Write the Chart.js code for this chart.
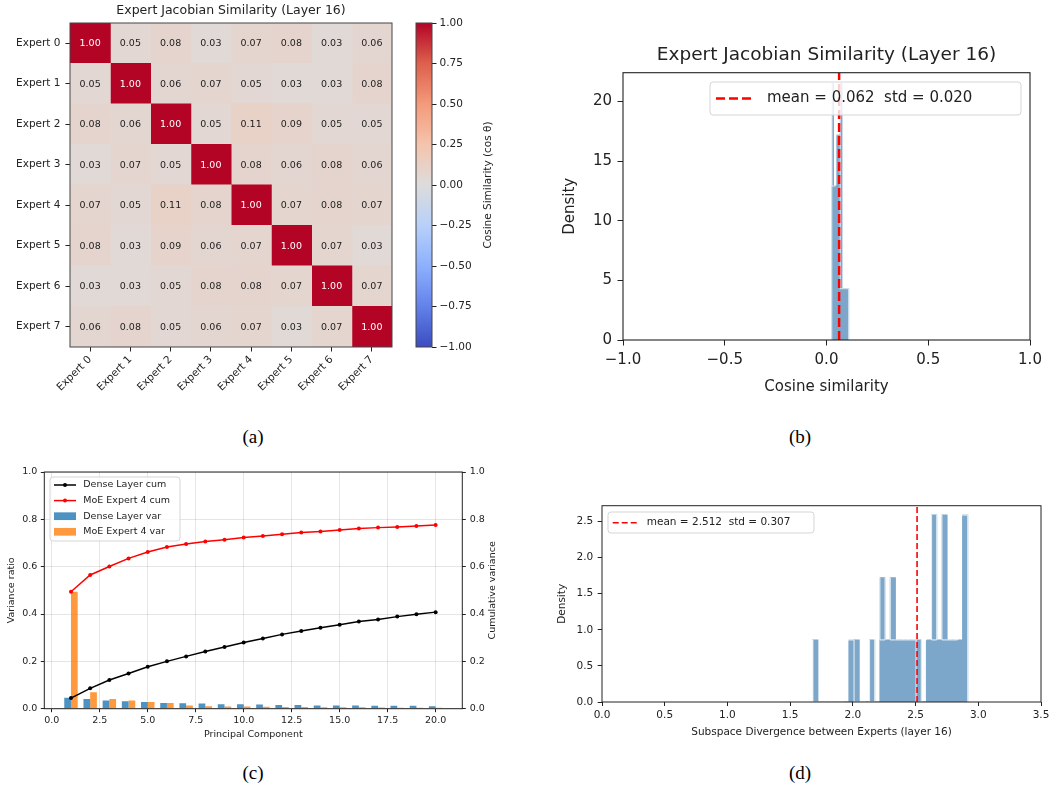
<!DOCTYPE html>
<html>
<head>
<meta charset="utf-8">
<script src="https://cdn.jsdelivr.net/npm/chart.js@4.4.0/dist/chart.umd.min.js"></script>
<style>
  body { margin: 0; background: #fff; width: 1049px; height: 790px; position: relative; overflow: hidden; }
  canvas { position: absolute; }
  .cap { position: absolute; width: 60px; text-align: center; font-family: "Liberation Serif"; font-size: 19px; line-height: 20px; color: #000; }
</style>
</head>
<body>
<canvas id="heat" width="400" height="420" style="left:0;top:0"></canvas>
<canvas id="cbar" width="120" height="420" style="left:400px;top:0"></canvas>
<canvas id="histCos" width="509" height="380" style="left:540px;top:30px"></canvas>
<canvas id="pca" width="520" height="300" style="left:0;top:460px"></canvas>
<canvas id="histDiv" width="509" height="260" style="left:540px;top:500px"></canvas>
<div class="cap" style="left:223px;top:427px">(a)</div>
<div class="cap" style="left:770px;top:427px">(b)</div>
<div class="cap" style="left:223px;top:763px">(c)</div>
<div class="cap" style="left:770px;top:763px">(d)</div>
<script>
// ---- data ----
const experts = ['Expert 0', 'Expert 1', 'Expert 2', 'Expert 3', 'Expert 4', 'Expert 5', 'Expert 6', 'Expert 7'];
const simMatrix = [
  [1.00, 0.05, 0.08, 0.03, 0.07, 0.08, 0.03, 0.06],
  [0.05, 1.00, 0.06, 0.07, 0.05, 0.03, 0.03, 0.08],
  [0.08, 0.06, 1.00, 0.05, 0.11, 0.09, 0.05, 0.05],
  [0.03, 0.07, 0.05, 1.00, 0.08, 0.06, 0.08, 0.06],
  [0.07, 0.05, 0.11, 0.08, 1.00, 0.07, 0.08, 0.07],
  [0.08, 0.03, 0.09, 0.06, 0.07, 1.00, 0.07, 0.03],
  [0.03, 0.03, 0.05, 0.08, 0.08, 0.07, 1.00, 0.07],
  [0.06, 0.08, 0.05, 0.06, 0.07, 0.03, 0.07, 1.00]
];
const cbarTicks = [-1, -0.75, -0.5, -0.25, 0, 0.25, 0.5, 0.75, 1];

const cosBinLo = 0.026, cosBinHi = 0.109;
const cosDensity = [21.5, 12.9, 12.9, 17.2, 17.2, 21.5, 4.3, 4.3, 4.3, 4.3];
const cosMean = 0.062, cosStd = 0.020;
const cosXTicks = [-1, -0.5, 0, 0.5, 1];
const cosYTicks = [0, 5, 10, 15, 20];

const components = [1, 2, 3, 4, 5, 6, 7, 8, 9, 10, 11, 12, 13, 14, 15, 16, 17, 18, 19, 20];
const denseVar = [0.046, 0.041, 0.035, 0.031, 0.028, 0.024, 0.023, 0.022, 0.019, 0.019, 0.018, 0.016, 0.016, 0.013, 0.013, 0.013, 0.012, 0.012, 0.012, 0.010];
const moeVar = [0.494, 0.069, 0.041, 0.035, 0.028, 0.024, 0.013, 0.010, 0.009, 0.009, 0.008, 0.007, 0.007, 0.006, 0.006, 0.006, 0.005, 0.004, 0.004, 0.004];
const denseCum = [0.045, 0.086, 0.121, 0.149, 0.177, 0.200, 0.221, 0.242, 0.261, 0.280, 0.297, 0.314, 0.328, 0.342, 0.355, 0.368, 0.377, 0.389, 0.399, 0.408];
const moeCum = [0.494, 0.565, 0.601, 0.635, 0.662, 0.683, 0.696, 0.706, 0.714, 0.723, 0.730, 0.737, 0.744, 0.749, 0.755, 0.761, 0.765, 0.768, 0.772, 0.776];
const pcaXTicks = [0, 2.5, 5, 7.5, 10, 12.5, 15, 17.5, 20];
const pcaYTicks = [0, 0.2, 0.4, 0.6, 0.8, 1.0];

const divBinLo = 1.680, divBinHi = 2.916;
const divDensity = [0.86, 0, 0, 0, 0, 0, 0, 0.86, 0.86, 0, 0, 0.86, 0, 1.72, 0.86, 1.72, 0.86, 0.86, 0.86, 0.86, 0.86, 0, 0.86, 2.59, 0.86, 2.59, 0.86, 0.86, 0.86, 2.59];
const divMean = 2.512, divStd = 0.307;
const divXTicks = [0, 0.5, 1, 1.5, 2, 2.5, 3, 3.5];
const divYTicks = [0, 0.5, 1, 1.5, 2, 2.5];

// ---- helpers ----
Chart.defaults.font.family = '"DejaVu Sans"';
Chart.defaults.color = '#222';

const FONT = '"DejaVu Sans"';
const fmt = (v, d) => (v < 0 ? '\u2212' : '') + Math.abs(v).toFixed(d);
const fixW = w => s => { s.width = w; s.paddingTop = 0; s.paddingBottom = 0; };
const fixH = h => s => { s.height = h; s.paddingLeft = 0; s.paddingRight = 0; };
const setTicks = list => s => { s.ticks = list.map(v => ({ value: v })); };

const cwStops = ['#3b4cc0', '#6282ea', '#8db0fe', '#b8d0f9', '#dddcdc', '#f5c4ac', '#f49a7b', '#de604d', '#b40426'];
function hexRgb(h) {
  return [1, 3, 5].map(i => parseInt(h.slice(i, i + 2), 16));
}
function coolwarm(v) {
  const t = (v + 1) / 2 * (cwStops.length - 1);
  const i = Math.min(Math.floor(t), cwStops.length - 2);
  const f = t - i;
  const a = hexRgb(cwStops[i]), b = hexRgb(cwStops[i + 1]);
  const c = a.map((x, k) => Math.round(x + (b[k] - x) * f));
  return `rgb(${c[0]},${c[1]},${c[2]})`;
}

function makeFrame(color, lw) {
  return {
    id: 'frame',
    afterDraw(chart) {
      const { ctx, chartArea: a } = chart;
      ctx.save();
      ctx.strokeStyle = color;
      ctx.lineWidth = lw;
      ctx.strokeRect(a.left, a.top, a.right - a.left, a.bottom - a.top);
      ctx.restore();
    }
  };
}

function makeTexts(items) {
  return {
    id: 'texts',
    afterDraw(chart) {
      const { ctx, chartArea: a } = chart;
      items.forEach(it => {
        const [x, y] = it.at(a);
        ctx.save();
        ctx.translate(x, y);
        if (it.rot) ctx.rotate(it.rot);
        ctx.font = it.font;
        ctx.fillStyle = '#222';
        ctx.textAlign = 'center';
        ctx.textBaseline = 'middle';
        ctx.fillText(it.text, 0, 0);
        ctx.restore();
      });
    }
  };
}

function makeLegend(cfg) {
  return {
    id: 'legendBox',
    afterDraw(chart) {
      const ctx = chart.ctx;
      ctx.save();
      ctx.beginPath();
      ctx.roundRect(cfg.x, cfg.y, cfg.w, cfg.h, 3);
      ctx.fillStyle = 'rgba(255,255,255,0.8)';
      ctx.fill();
      ctx.strokeStyle = '#d5d5d5';
      ctx.lineWidth = 1;
      ctx.stroke();
      cfg.entries.forEach((e, k) => {
        const cy = cfg.firstY + k * (cfg.rowH || 0);
        if (e.kind === 'rect') {
          ctx.fillStyle = e.color;
          ctx.fillRect(cfg.s0, cy - cfg.rectH / 2, cfg.s1 - cfg.s0, cfg.rectH);
        } else {
          ctx.beginPath();
          ctx.strokeStyle = e.color;
          ctx.lineWidth = e.lw;
          ctx.setLineDash(e.dash || []);
          ctx.moveTo(cfg.s0, cy);
          ctx.lineTo(cfg.s1, cy);
          ctx.stroke();
          ctx.setLineDash([]);
          if (e.marker) {
            ctx.beginPath();
            ctx.fillStyle = e.color;
            ctx.arc((cfg.s0 + cfg.s1) / 2, cy, e.marker, 0, Math.PI * 2);
            ctx.fill();
          }
        }
        ctx.fillStyle = '#222';
        ctx.font = cfg.font;
        ctx.textAlign = 'left';
        ctx.textBaseline = 'middle';
        ctx.fillText(e.text, cfg.textX, cy);
      });
      ctx.restore();
    }
  };
}

// histogram helpers: bar centers and step outline from bin edges
function histBars(lo, hi, dens) {
  const w = (hi - lo) / dens.length;
  return dens.map((d, k) => ({ x: lo + (k + 0.5) * w, y: d }));
}
function histOutline(lo, hi, dens) {
  const w = (hi - lo) / dens.length;
  const pts = [{ x: lo, y: 0 }];
  dens.forEach((d, k) => pts.push({ x: lo + k * w, y: d }));
  pts.push({ x: hi, y: dens[dens.length - 1] }, { x: hi, y: 0 });
  return pts;
}

const noPlug = { legend: { display: false }, tooltip: { enabled: false } };
// steelblue at alpha 0.7 on white, kept opaque so neighbouring bins don't seam
const HIST_FILL = '#7da7ca';

// ---- (a) heatmap ----
const cellText = {
  id: 'cellText',
  afterDatasetsDraw(chart) {
    const { ctx, scales: { x, y } } = chart;
    ctx.save();
    ctx.font = '9.5px ' + FONT;
    ctx.textAlign = 'center';
    ctx.textBaseline = 'middle';
    simMatrix.forEach((row, i) => row.forEach((v, j) => {
      ctx.fillStyle = v > 0.5 ? '#fff' : '#222';
      ctx.fillText(v.toFixed(2), x.getPixelForValue(j + 0.5), y.getPixelForValue(i) + 0.5);
    }));
    ctx.restore();
  }
};

new Chart(document.getElementById('heat'), {
  type: 'bar',
  data: {
    labels: experts,
    datasets: experts.map((_, j) => ({
      data: experts.map(() => 1),
      backgroundColor: simMatrix.map(row => coolwarm(row[j])),
      borderWidth: 0,
      inflateAmount: 0.5,
      barPercentage: 1,
      categoryPercentage: 1
    }))
  },
  options: {
    indexAxis: 'y',
    responsive: false,
    animation: false,
    layout: { padding: { top: 23, right: 8, left: 0, bottom: 0 } },
    plugins: noPlug,
    scales: {
      x: {
        type: 'linear', stacked: true, min: 0, max: 8,
        afterBuildTicks: setTicks(experts.map((_, j) => j + 0.5)),
        afterFit: fixH(73),
        ticks: { callback: (v, i) => experts[i], minRotation: 45, maxRotation: 45, autoSkip: false, padding: 2, font: { size: 10.5 } },
        grid: { drawOnChartArea: false, tickLength: 4.5, tickColor: '#222' },
        border: { display: false }
      },
      y: {
        stacked: true,
        afterFit: fixW(70),
        ticks: { padding: 5, font: { size: 10.5 } },
        grid: { offset: false, drawOnChartArea: false, tickLength: 4.5, tickColor: '#222' },
        border: { display: false }
      }
    }
  },
  plugins: [cellText, makeFrame('#444', 1), makeTexts([
    { text: 'Expert Jacobian Similarity (Layer 16)', font: '12.5px ' + FONT, at: a => [(a.left + a.right) / 2, 11] }
  ])]
});

// colorbar
new Chart(document.getElementById('cbar'), {
  type: 'bar',
  data: {
    labels: [''],
    datasets: [{
      data: [[-1, 1]],
      backgroundColor: c => {
        const a = c.chart.chartArea;
        if (!a) return 'transparent';
        const g = c.chart.ctx.createLinearGradient(0, a.bottom, 0, a.top);
        cwStops.forEach((col, k) => g.addColorStop(k / (cwStops.length - 1), col));
        return g;
      },
      borderWidth: 0,
      barPercentage: 1,
      categoryPercentage: 1
    }]
  },
  options: {
    responsive: false,
    animation: false,
    layout: { padding: { left: 16, top: 23, bottom: 73, right: 0 } },
    plugins: noPlug,
    scales: {
      x: { display: false },
      y: {
        position: 'right', min: -1, max: 1,
        afterBuildTicks: setTicks(cbarTicks),
        afterFit: fixW(88),
        ticks: { callback: v => fmt(v, 2), padding: 3, font: { size: 10.5 } },
        grid: { drawOnChartArea: false, tickLength: 4.5, tickColor: '#222' },
        border: { display: false }
      }
    }
  },
  plugins: [makeFrame('#444', 1), makeTexts([
    { text: 'Cosine Similarity (cos \u03b8)', font: '10.5px ' + FONT, rot: -Math.PI / 2, at: a => [88, (a.top + a.bottom) / 2] }
  ])]
});

// ---- (b) cosine similarity histogram ----
new Chart(document.getElementById('histCos'), {
  type: 'bar',
  data: {
    datasets: [
      { type: 'line', data: [{ x: cosMean, y: 0 }, { x: cosMean, y: 22.4 }], borderColor: '#ff0000', borderWidth: 2.5, borderDash: [9, 4], pointRadius: 0, order: 0 },
      { type: 'line', data: histOutline(cosBinLo, cosBinHi, cosDensity), stepped: 'after', borderColor: 'rgba(255,255,255,0.9)', borderWidth: 0.8, pointRadius: 0, order: 1 },
      { data: histBars(cosBinLo, cosBinHi, cosDensity), backgroundColor: HIST_FILL, borderWidth: 0, inflateAmount: 0.5, barPercentage: 1, categoryPercentage: 1, order: 2 }
    ]
  },
  options: {
    responsive: false,
    animation: false,
    layout: { padding: { top: 42.7, right: 19, left: 0, bottom: 0 } },
    plugins: noPlug,
    scales: {
      x: {
        type: 'linear', min: -1, max: 1, offset: false,
        afterBuildTicks: setTicks(cosXTicks),
        afterFit: fixH(70),
        ticks: { callback: v => fmt(v, 1), padding: 6, font: { size: 15 } },
        grid: { offset: false, drawOnChartArea: false, tickLength: 5.5, tickColor: '#222' },
        border: { display: false }
      },
      y: {
        min: 0, max: 22.4,
        afterBuildTicks: setTicks(cosYTicks),
        afterFit: fixW(83),
        ticks: { padding: 5.5, font: { size: 15 } },
        grid: { drawOnChartArea: false, tickLength: 5.5, tickColor: '#222' },
        border: { display: false }
      }
    }
  },
  plugins: [makeFrame('#222', 1.1), makeTexts([
    { text: 'Expert Jacobian Similarity (Layer 16)', font: '18.5px ' + FONT, at: a => [(a.left + a.right) / 2, 25] },
    { text: 'Density', font: '15px ' + FONT, rot: -Math.PI / 2, at: a => [30, (a.top + a.bottom) / 2] },
    { text: 'Cosine similarity', font: '15px ' + FONT, at: a => [(a.left + a.right) / 2, 357] }
  ]), makeLegend({
    x: 170, y: 52, w: 311, h: 33, firstY: 68.5, s0: 176, s1: 213, textX: 227, font: '15px ' + FONT,
    entries: [{ kind: 'line', color: '#ff0000', lw: 2.5, dash: [9, 4], text: `mean = ${cosMean.toFixed(3)}  std = ${cosStd.toFixed(3)}` }]
  })]
});

// ---- (c) PCA variance ----
new Chart(document.getElementById('pca'), {
  type: 'bar',
  data: {
    datasets: [
      { type: 'line', label: 'Dense Layer cum', yAxisID: 'y2', data: components.map((c, i) => ({ x: c, y: denseCum[i] })), borderColor: '#000', backgroundColor: '#000', borderWidth: 1.5, pointRadius: 2, pointBorderWidth: 0, order: 0 },
      { type: 'line', label: 'MoE Expert 4 cum', yAxisID: 'y2', data: components.map((c, i) => ({ x: c, y: moeCum[i] })), borderColor: '#ff0000', backgroundColor: '#ff0000', borderWidth: 1.5, pointRadius: 2, pointBorderWidth: 0, order: 0 },
      { label: 'Dense Layer var', data: components.map((c, i) => ({ x: c, y: denseVar[i] })), backgroundColor: 'rgba(31,119,180,0.8)', borderWidth: 0, barPercentage: 1, categoryPercentage: 0.7, order: 1 },
      { label: 'MoE Expert 4 var', data: components.map((c, i) => ({ x: c, y: moeVar[i] })), backgroundColor: 'rgba(255,127,14,0.8)', borderWidth: 0, barPercentage: 1, categoryPercentage: 0.7, order: 1 }
    ]
  },
  options: {
    responsive: false,
    animation: false,
    layout: { padding: { top: 12, right: 0, left: 0, bottom: 0 } },
    plugins: noPlug,
    scales: {
      x: {
        type: 'linear', min: -0.39, max: 21.39, offset: false,
        afterBuildTicks: setTicks(pcaXTicks),
        afterFit: fixH(51.3),
        ticks: { callback: v => v.toFixed(1), padding: 3, font: { size: 9.5 } },
        grid: { offset: false, color: 'rgba(150,150,150,0.25)', tickLength: 3.5, tickColor: '#222' },
        border: { display: false }
      },
      y: {
        min: 0, max: 1,
        afterBuildTicks: setTicks(pcaYTicks),
        afterFit: fixW(44.3),
        ticks: { callback: v => v.toFixed(1), padding: 3.5, font: { size: 9.5 } },
        grid: { color: 'rgba(150,150,150,0.25)', tickLength: 3.5, tickColor: '#222' },
        border: { display: false }
      },
      y2: {
        position: 'right', min: 0, max: 1,
        afterBuildTicks: setTicks(pcaYTicks),
        afterFit: fixW(57.7),
        ticks: { callback: v => v.toFixed(1), padding: 4, font: { size: 9.5 } },
        grid: { drawOnChartArea: false, tickLength: 3.5, tickColor: '#222' },
        border: { display: false }
      }
    }
  },
  plugins: [makeFrame('#222', 1), makeTexts([
    { text: 'Variance ratio', font: '9.5px ' + FONT, rot: -Math.PI / 2, at: a => [11.7, (a.top + a.bottom) / 2] },
    { text: 'Cumulative variance', font: '9.5px ' + FONT, rot: -Math.PI / 2, at: a => [493, (a.top + a.bottom) / 2] },
    { text: 'Principal Component', font: '9.5px ' + FONT, at: a => [(a.left + a.right) / 2, 275] }
  ]), makeLegend({
    x: 50, y: 17, w: 130, h: 64, firstY: 25, rowH: 15.6, s0: 54, s1: 76, textX: 83.3, rectH: 7.7, font: '9.5px ' + FONT,
    entries: [
      { kind: 'line', color: '#000', lw: 1.5, marker: 2, text: 'Dense Layer cum' },
      { kind: 'line', color: '#ff0000', lw: 1.5, marker: 2, text: 'MoE Expert 4 cum' },
      { kind: 'rect', color: 'rgba(31,119,180,0.8)', text: 'Dense Layer var' },
      { kind: 'rect', color: 'rgba(255,127,14,0.8)', text: 'MoE Expert 4 var' }
    ]
  })]
});

// ---- (d) subspace divergence histogram ----
new Chart(document.getElementById('histDiv'), {
  type: 'bar',
  data: {
    datasets: [
      { type: 'line', data: [{ x: divMean, y: 0 }, { x: divMean, y: 2.72 }], borderColor: '#ff0000', borderWidth: 1.6, borderDash: [6, 3], pointRadius: 0, order: 0 },
      { type: 'line', data: histOutline(divBinLo, divBinHi, divDensity), stepped: 'after', borderColor: 'rgba(255,255,255,0.85)', borderWidth: 1, pointRadius: 0, order: 1 },
      { data: histBars(divBinLo, divBinHi, divDensity), backgroundColor: HIST_FILL, borderWidth: 0, inflateAmount: 0.5, barPercentage: 1, categoryPercentage: 1, order: 2 }
    ]
  },
  options: {
    responsive: false,
    animation: false,
    layout: { padding: { top: 5.7, right: 8, left: 0, bottom: 0 } },
    plugins: noPlug,
    scales: {
      x: {
        type: 'linear', min: 0, max: 3.5, offset: false,
        afterBuildTicks: setTicks(divXTicks),
        afterFit: fixH(58),
        ticks: { callback: v => v.toFixed(1), padding: 3, font: { size: 10.5 } },
        grid: { offset: false, drawOnChartArea: false, tickLength: 4, tickColor: '#222' },
        border: { display: false }
      },
      y: {
        min: 0, max: 2.72,
        afterBuildTicks: setTicks(divYTicks),
        afterFit: fixW(62),
        ticks: { callback: v => v.toFixed(1), padding: 4.4, font: { size: 10.5 } },
        grid: { drawOnChartArea: false, tickLength: 4.3, tickColor: '#222' },
        border: { display: false }
      }
    }
  },
  plugins: [makeFrame('#222', 1), makeTexts([
    { text: 'Density', font: '10.5px ' + FONT, rot: -Math.PI / 2, at: a => [22.7, (a.top + a.bottom) / 2] },
    { text: 'Subspace Divergence between Experts (layer 16)', font: '10.5px ' + FONT, at: a => [(a.left + a.right) / 2, 232] }
  ]), makeLegend({
    x: 68, y: 12, w: 206, h: 21, firstY: 22.7, s0: 72.7, s1: 96.7, textX: 106.7, font: '10.5px ' + FONT,
    entries: [{ kind: 'line', color: '#ff0000', lw: 1.6, dash: [6, 3], text: `mean = ${divMean.toFixed(3)}  std = ${divStd.toFixed(3)}` }]
  })]
});
</script>
</body>
</html>
